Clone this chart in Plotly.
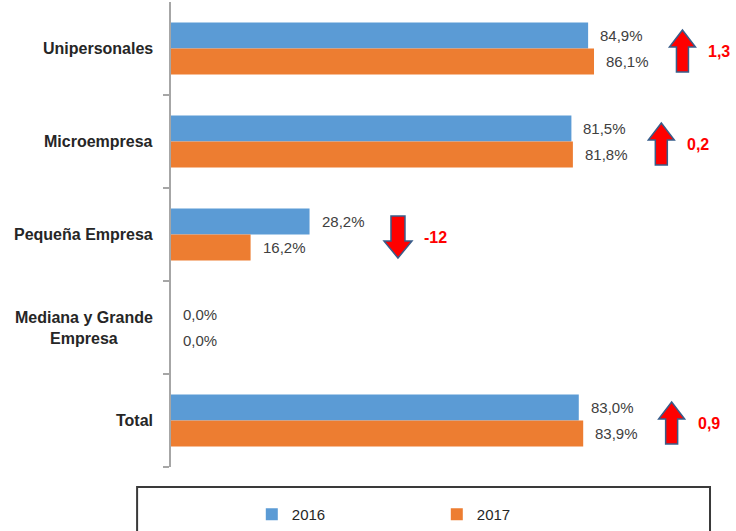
import plotly.graph_objects as go

# ---- data ----
categories = ["Unipersonales", "Microempresa", "Pequeña Empresa",
              "Mediana y Grande<br>Empresa", "Total"]
series_names = ["2016", "2017"]
values_2016 = [84.9, 81.5, 28.2, 0.0, 83.0]
values_2017 = [86.1, 81.8, 16.2, 0.0, 83.9]
change_labels = ["1,3", "0,2", "-12", "", "0,9"]

# ---- styles ----
colors = ["#5B9BD5", "#ED7D31"]
FONT = "Liberation Sans, Arial, sans-serif"
BARGAP = 0.44
pos = list(range(len(categories)))
series = [values_2016, values_2017]

fig = go.Figure()
for name, vals, col in zip(series_names, series, colors):
    fig.add_trace(go.Bar(y=pos, x=vals, orientation="h", name=name,
                         marker=dict(color=col, line=dict(width=0)),
                         hoverinfo="x+name"))

annotations = []
shapes = []
bar_off = (1 - BARGAP) / 4.0

# data labels
for s_idx, vals in enumerate(series):
    off = -bar_off if s_idx == 0 else bar_off
    for i, v in zip(pos, vals):
        annotations.append(dict(
            x=v, y=i + off, xref="x", yref="y", xanchor="left", yanchor="middle",
            xshift=10, showarrow=False,
            text=f"{v:.1f}%".replace(".", ","),
            font=dict(family=FONT, size=15, color="#404040")))

# category labels
for i, c in zip(pos, categories):
    annotations.append(dict(
        x=0, y=i, xref="paper", yref="y", xanchor="right", yanchor="middle",
        xshift=-16, showarrow=False, align="center", text=f"<b>{c}</b>",
        font=dict(family=FONT, size=16, color="#262626")))

# change arrows + labels
up_path = "M0,18.5 L13,1.5 L6,1.5 L6,-23.5 L-6,-23.5 L-6,1.5 L-13,1.5 Z"
down_path = "M0,-23.5 L14,-6.5 L7,-6.5 L7,18.5 L-7,18.5 L-7,-6.5 L-14,-6.5 Z"
for i, a, b, lab in zip(pos, values_2016, values_2017, change_labels):
    if not lab:
        continue
    ax = max(a, b) + 18
    shapes.append(dict(
        type="path", xref="x", yref="y", xsizemode="pixel", ysizemode="pixel",
        xanchor=ax, yanchor=i, path=up_path if b >= a else down_path,
        fillcolor="#FF0000", line=dict(color="#385D8A", width=1.5), layer="above"))
    annotations.append(dict(
        x=ax, y=i, xref="x", yref="y", xanchor="left", yanchor="middle",
        xshift=24, yshift=-3, showarrow=False, text=f"<b>{lab}</b>",
        font=dict(family=FONT, size=16, color="#FF0000")))

# legend frame
shapes.append(dict(type="rect", xref="paper", yref="paper",
                   x0=-0.060, x1=0.954, y0=-0.157, y1=-0.043,
                   line=dict(color="#3A3A3A", width=2), fillcolor="rgba(0,0,0,0)"))

fig.update_layout(
    width=736, height=531,
    margin=dict(l=171, r=0, t=2, b=64),
    paper_bgcolor="white", plot_bgcolor="white",
    barmode="group", bargap=BARGAP, bargroupgap=0,
    font=dict(family=FONT, size=15, color="#262626"),
    xaxis=dict(range=[0, 115], visible=False, showgrid=False, zeroline=False),
    yaxis=dict(range=[len(categories) - 0.5, -0.5], showgrid=False, zeroline=False,
               showline=True, linecolor="#A6A6A6", linewidth=2,
               tickmode="array", tickvals=[p + 0.5 for p in pos],
               ticks="outside", ticklen=6, tickwidth=2, tickcolor="#A6A6A6",
               showticklabels=False),
    showlegend=True,
    legend=dict(orientation="h", x=0.143, xanchor="left", y=-0.103, yanchor="middle",
                entrywidth=140, entrywidthmode="pixels",
                font=dict(family=FONT, size=15, color="#262626"),
                bgcolor="rgba(0,0,0,0)", borderwidth=0),
    annotations=annotations, shapes=shapes,
)

fig.write_html("out.html", config={"displayModeBar": False},
               post_script="document.body.style.margin='0';document.body.style.overflow='hidden';")
